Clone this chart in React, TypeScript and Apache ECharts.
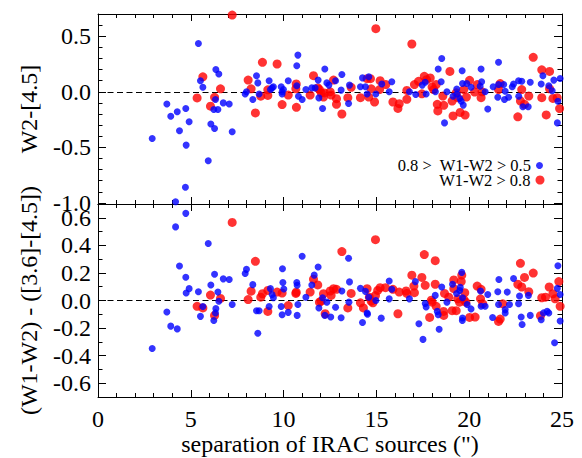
import React, { useEffect, useRef } from 'react';
import * as echarts from 'echarts';

const BLUE_NAME = '0.8 >  W1-W2 > 0.5';
const RED_NAME = 'W1-W2 > 0.8';
const X_TITLE = 'separation of IRAC sources (")';
const TOP_TITLE = 'W2-[4.5]';
const BOTTOM_TITLE = '(W1-W2) - ([3.6]-[4.5])';

// [separation, W2-[4.5]] — blue: 0.8 > W1-W2 > 0.5
const topBlue: [number, number][] = [
  [2.92, -0.42], [3.71, -0.11], [3.92, -0.22], [4.27, -0.18], [4.39, -0.35], [4.73, -0.15], [4.75, -0.48], [4.91, -0.27], [4.71, -0.86], [4.18, -0.99],
  [5.41, 0.435], [5.52, 0.1], [5.65, 0.04], [6.35, 0.2], [6.51, 0.16], [6.33, -0.07], [6.24, -0.16], [6.46, -0.16], [6.08, -0.29], [6.28, -0.33], [5.94, -0.62], [6.75, -0.1], [7.07, -0.11], [7.23, -0.36],
  [7.93, -0.02], [8.0, 0.0], [8.34, -0.07], [8.54, 0.145], [8.61, 0.08], [8.68, -0.02], [9.22, 0.1], [9.29, 0.02], [9.38, 0.035], [9.45, 0.045], [9.87, 0.045], [9.92, 0.0], [9.99, 0.02], [9.92, -0.02], [10.25, 0.1], [10.77, 0.33], [10.71, 0.235], [10.71, 0.055], [10.8, -0.04],
  [11.0, -0.07], [11.2, 0.02], [11.52, 0.035], [11.7, 0.035], [11.86, 0.105], [11.9, -0.055], [12.1, -0.15], [12.22, 0.205], [12.33, 0.08], [12.44, 0.06], [12.8, 0.1], [13.1, 0.015], [13.14, 0.155], [13.5, -0.105], [13.55, 0.06],
  [14.14, 0.045], [14.25, 0.125], [14.41, 0.045], [14.5, -0.02], [14.59, 0.135], [14.97, -0.02], [15.29, 0.07], [15.69, 0.0], [15.83, 0.09], [16.78, 0.0], [17.12, -0.025], [17.47, 0.06], [17.63, 0.085], [17.68, -0.02],
  [18.18, 0.0], [18.33, 0.205], [18.52, 0.3], [18.49, 0.09], [18.67, -0.28], [18.8, 0.0], [19.13, -0.04], [19.33, 0.025], [19.35, -0.02], [19.49, -0.06], [19.62, 0.19], [19.64, 0.075], [19.57, -0.085], [19.68, -0.12], [19.87, 0.075],
  [20.1, 0.04], [20.59, 0.05], [20.64, 0.205], [20.67, 0.09], [20.86, 0.0], [21.0, -0.155], [21.29, 0.045], [21.58, 0.265], [21.58, 0.065], [21.54, -0.05], [21.86, 0.065], [21.94, 0.005], [21.9, -0.07], [22.12, -0.05],
  [22.32, 0.045], [22.39, 0.07], [22.66, 0.1], [22.67, -0.04], [22.83, 0.095], [22.89, -0.135], [23.18, -0.135], [23.29, 0.085], [23.88, 0.07], [23.97, 0.145], [24.29, 0.055], [24.47, 0.01], [24.56, 0.105], [24.9, 0.12], [24.78, -0.085], [24.75, -0.28],
];

// [separation, W2-[4.5]] — red: W1-W2 > 0.8
const topRed: [number, number][] = [
  [5.34, -0.055], [5.65, 0.135], [6.28, -0.05], [6.06, -0.13], [6.6, 0.027], [7.23, 0.69], [8.09, 0.105], [8.25, 0.027], [8.48, -0.19], [8.77, -0.04], [8.86, 0.265], [9.15, 0.018], [9.15, -0.033], [9.65, 0.25], [9.92, -0.115], [10.25, -0.03], [10.66, 0.027], [10.68, 0.07], [10.69, -0.14],
  [11.43, -0.03], [11.61, 0.145], [11.85, 0.035], [11.93, 0.02], [12.03, -0.01], [12.15, -0.048], [12.2, -0.01], [12.51, 0.0], [12.56, -0.03], [12.69, 0.105], [12.85, -0.062], [12.85, -0.113], [13.14, -0.2], [13.64, 0.04], [13.46, -0.053],
  [14.14, -0.053], [14.5, 0.118], [14.68, 0.118], [14.72, 0.027], [14.59, -0.048], [14.9, -0.092], [14.97, 0.568], [15.2, 0.1], [15.17, 0.02], [15.51, 0.065], [15.89, -0.092], [16.16, -0.15], [16.23, -0.107], [16.64, -0.068], [16.64, 0.012], [16.91, 0.43],
  [17.05, 0.065], [17.27, 0.094], [17.45, -0.018], [17.58, 0.139], [17.7, 0.109], [17.9, 0.124], [18.0, 0.044], [18.08, 0.02], [18.22, 0.065], [18.28, -0.113], [18.31, -0.172], [18.58, -0.039], [18.63, -0.122], [18.96, 0.183],
  [19.08, -0.083], [19.13, -0.217], [19.3, -0.009], [19.38, -0.053], [19.51, -0.186], [19.78, -0.21], [19.71, 0.02], [19.85, -0.048], [20.02, 0.103], [20.29, -0.003], [20.43, 0.065], [20.64, -0.053], [20.69, 0.0], [21.58, 0.02], [21.67, 0.074],
  [22.62, -0.225], [22.83, 0.02], [22.76, -0.083], [22.98, -0.113], [23.21, -0.039], [23.45, 0.31], [23.91, 0.198], [23.91, -0.053], [24.15, -0.208], [24.33, 0.183], [24.33, 0.027], [24.51, -0.06], [24.74, -0.053], [24.87, -0.151],
];

// [separation, (W1-W2) - ([3.6]-[4.5])] — blue
const bottomBlue: [number, number][] = [
  [2.92, -0.348], [3.71, -0.083], [3.92, -0.186], [4.27, -0.206], [4.18, 0.534], [4.39, 0.25], [4.73, 0.632], [4.73, 0.169], [4.75, 0.054], [4.91, 0.086], [5.41, 0.064], [5.52, -0.115], [5.65, -0.044], [5.94, 0.414],
  [6.08, 0.113], [6.28, 0.191], [6.24, -0.145], [6.33, -0.09], [6.35, -0.059], [6.46, 0.061], [6.51, -0.005], [6.75, 0.157], [7.07, 0.152], [7.23, -0.029], [7.93, 0.196], [8.0, 0.226], [8.34, 0.115], [8.54, -0.074], [8.68, -0.074], [8.61, -0.238],
  [9.22, -0.044], [9.29, 0.086], [9.38, 0.044], [9.45, 0.02], [9.87, -0.044], [9.92, -0.103], [9.94, 0.23], [9.96, 0.13], [10.01, 0.083], [10.25, -0.086], [10.71, 0.13], [10.73, 0.11], [10.77, -0.029], [10.73, -0.108],
  [11.0, 0.321], [11.2, 0.024], [11.52, 0.113], [11.65, 0.184], [11.86, 0.243], [11.9, -0.054], [12.1, 0.02], [12.22, -0.108], [12.33, -0.012], [12.54, -0.12], [12.8, -0.049], [13.1, -0.125], [13.14, 0.069], [13.5, 0.307], [13.55, 0.135], [13.52, -0.012],
  [14.14, 0.088], [14.25, -0.159], [14.41, 0.066], [14.5, -0.091], [14.52, -0.1], [14.59, 0.024], [14.97, 0.0], [15.26, -0.128], [15.69, 0.142], [15.69, 0.012], [15.83, 0.081], [16.78, 0.012], [17.1, 0.137], [17.29, -0.169], [17.51, -0.282], [17.63, -0.022], [17.68, -0.047],
  [18.17, 0.037], [18.28, -0.079], [18.33, -0.103], [18.38, -0.208], [18.52, 0.098], [18.8, -0.012], [19.1, 0.118], [19.32, 0.051], [19.49, 0.073], [19.52, 0.095], [19.6, 0.204], [19.64, 0.02], [19.64, -0.127], [19.63, -0.145], [19.89, -0.029],
  [20.1, -0.061], [20.61, 0.069], [20.64, -0.042], [20.86, -0.042], [21.0, 0.044], [21.26, -0.123], [21.54, 0.064], [21.6, 0.152], [21.58, -0.029], [21.94, -0.066], [21.94, -0.09], [22.05, 0.061], [22.17, -0.029], [22.39, 0.16],
  [22.66, -0.024], [22.71, 0.032], [22.8, -0.12], [22.85, -0.174], [23.19, 0.037], [23.29, -0.108], [23.88, -0.14], [24.0, -0.09], [24.2, -0.079], [24.29, -0.09], [24.6, -0.306], [24.75, 0.088], [24.78, 0.252], [24.9, 0.044], [24.9, -0.149],
];

// [separation, (W1-W2) - ([3.6]-[4.5])] — red
const bottomRed: [number, number][] = [
  [5.34, -0.042], [5.65, -0.054], [6.06, 0.039], [6.28, -0.108], [6.6, 0.015], [7.23, 0.566], [8.09, 0.007], [8.25, 0.068], [8.48, 0.284], [8.77, 0.024], [8.86, 0.049], [9.15, -0.079], [9.15, 0.073], [9.65, 0.061], [9.92, 0.054], [10.25, -0.037], [10.66, 0.051], [10.68, 0.06],
  [11.43, 0.061], [11.61, 0.154], [11.84, 0.113], [11.93, -0.012], [12.02, -0.005], [12.15, 0.049], [12.24, -0.096], [12.51, 0.069], [12.56, 0.037], [12.69, 0.086], [12.85, 0.081], [13.14, 0.355], [13.46, -0.054], [13.64, 0.051],
  [14.14, -0.017], [14.3, -0.054], [14.5, 0.086], [14.62, 0.024], [14.72, -0.005], [14.81, -0.017], [14.95, 0.441], [14.95, 0.037], [15.07, 0.073], [15.2, 0.093], [15.49, 0.093], [15.89, 0.081], [16.16, -0.096], [16.23, 0.061], [16.6, 0.069], [16.64, 0.051],
  [16.91, 0.184], [17.02, 0.105], [17.05, 0.057], [17.45, 0.167], [17.58, 0.333], [17.63, 0.11], [17.87, -0.123], [17.96, 0.002], [18.0, -0.012], [18.17, 0.289], [18.17, 0.118], [18.22, -0.042], [18.62, -0.079], [18.63, -0.108], [18.67, 0.051], [18.9, 0.024],
  [19.08, -0.074], [19.17, 0.149], [19.17, 0.086], [19.3, -0.074], [19.38, 0.012], [19.48, -0.012], [19.6, 0.184], [19.57, 0.137], [19.76, 0.057], [19.71, 0.007], [19.82, -0.012], [20.02, -0.123], [20.32, -0.12], [20.43, 0.105], [20.64, 0.081], [20.61, 0.012], [20.73, -0.024],
  [21.58, -0.152], [21.67, -0.135], [21.81, -0.024], [22.62, 0.118], [22.76, 0.27], [22.83, 0.098], [22.98, 0.167], [23.21, 0.064], [23.45, 0.199], [23.84, -0.11], [23.91, 0.02], [24.11, 0.024], [24.31, 0.098], [24.51, 0.049], [24.63, 0.012], [24.83, 0.137], [24.9, -0.042],
];

const X_RANGE = [0, 25];
const TOP_RANGE = [-1.01, 0.7];
const BOTTOM_RANGE = [-0.7, 0.7];

const FONT = 'Liberation Serif';
const BLACK = '#000000';

function xAxisDef(gridIndex: number, position: string, showLabels: boolean, withName: boolean) {
  return {
    type: 'value',
    gridIndex,
    position,
    min: X_RANGE[0],
    max: X_RANGE[1],
    interval: 5,
    axisLine: { show: true, onZero: false, lineStyle: { color: BLACK, width: 1 } },
    axisTick: { show: true, inside: true, length: 7, lineStyle: { color: BLACK, width: 1 } },
    minorTick: { show: true, splitNumber: 5, length: 4, lineStyle: { color: BLACK, width: 1 } },
    splitLine: { show: false },
    minorSplitLine: { show: false },
    axisLabel: { show: showLabels, margin: 10, fontFamily: FONT, fontSize: 24, color: BLACK },
    name: withName ? X_TITLE : '',
    nameLocation: 'middle',
    nameGap: 31,
    nameTextStyle: { fontFamily: FONT, fontSize: 24, color: BLACK },
  };
}

function yMajorDef(gridIndex: number, position: string, range: number[], splitNumber: number, showLabels: boolean, formatter: (v: number) => string, name: string) {
  return {
    type: 'value',
    gridIndex,
    position,
    min: range[0],
    max: range[1],
    splitNumber,
    axisLine: { show: true, onZero: false, lineStyle: { color: BLACK, width: 1 } },
    axisTick: { show: true, inside: true, length: 8, lineStyle: { color: BLACK, width: 1 } },
    splitLine: { show: false },
    axisLabel: { show: showLabels, margin: 7, fontFamily: FONT, fontSize: 24, lineHeight: 18, color: BLACK, formatter },
    name,
    nameLocation: 'middle',
    nameRotate: 90,
    nameGap: 57,
    nameTextStyle: { fontFamily: FONT, fontSize: 24, color: BLACK },
  };
}

function yMinorDef(gridIndex: number, position: string, range: number[], splitNumber: number) {
  return {
    type: 'value',
    gridIndex,
    position,
    min: range[0],
    max: range[1],
    splitNumber,
    axisLine: { show: false, onZero: false },
    axisTick: { show: true, inside: true, length: 4.5, lineStyle: { color: BLACK, width: 1 } },
    splitLine: { show: false },
    axisLabel: { show: false },
  };
}

const topFormatter = (v: number) => (Math.abs(v * 2 - Math.round(v * 2)) < 1e-6 ? (Math.abs(v) < 1e-9 ? '0.0' : v.toFixed(1)) : '');
const bottomFormatter = (v: number) => (Math.abs(v) <= 0.61 ? (Math.abs(v) < 1e-9 ? '0.0' : v.toFixed(1)) : '');

const zeroLine = {
  silent: true,
  symbol: ['none', 'none'],
  z: 1,
  label: { show: false },
  lineStyle: { color: BLACK, width: 1, type: [6, 3.5] },
  data: [{ yAxis: 0 }],
};

export default function App() {
  const ref = useRef<HTMLDivElement>(null);
  useEffect(() => {
    if (!ref.current) return;
    const chart = echarts.init(ref.current, undefined, { renderer: 'svg' });
    const legendText = { fontFamily: FONT, fontSize: 16.5, color: BLACK, lineHeight: 14 };
    chart.setOption({
      animation: false,
      backgroundColor: '#ffffff',
      grid: [
        { left: 98, top: 14, width: 464, height: 190 },
        { left: 98, top: 204, width: 464, height: 193 },
      ],
      legend: [
        {
          data: [{ name: BLUE_NAME, icon: 'circle' }],
          orient: 'vertical', align: 'right', right: 39, top: 157, padding: 0,
          itemWidth: 7, itemHeight: 7, selectedMode: false, textStyle: legendText,
        },
        {
          data: [{ name: RED_NAME, icon: 'circle' }],
          orient: 'vertical', align: 'right', right: 37.5, top: 171.5, padding: 0,
          itemWidth: 9, itemHeight: 9, selectedMode: false, textStyle: legendText,
        },
      ],
      xAxis: [
        xAxisDef(0, 'bottom', false, false),
        xAxisDef(0, 'top', false, false),
        xAxisDef(1, 'bottom', true, true),
        xAxisDef(1, 'top', false, false),
      ],
      yAxis: [
        yMajorDef(0, 'left', TOP_RANGE, 3, true, topFormatter, TOP_TITLE),
        yMajorDef(0, 'right', TOP_RANGE, 3, false, topFormatter, ''),
        yMinorDef(0, 'left', TOP_RANGE, 17),
        yMinorDef(0, 'right', TOP_RANGE, 17),
        yMajorDef(1, 'left', BOTTOM_RANGE, 7, true, bottomFormatter, BOTTOM_TITLE),
        yMajorDef(1, 'right', BOTTOM_RANGE, 7, false, bottomFormatter, ''),
        yMinorDef(1, 'left', BOTTOM_RANGE, 14),
        yMinorDef(1, 'right', BOTTOM_RANGE, 14),
      ],
      series: [
        { type: 'scatter', name: RED_NAME, xAxisIndex: 0, yAxisIndex: 0, data: topRed, symbol: 'circle', symbolSize: 9, itemStyle: { color: '#ff0000' }, markLine: zeroLine },
        { type: 'scatter', name: BLUE_NAME, xAxisIndex: 0, yAxisIndex: 0, data: topBlue, symbol: 'circle', symbolSize: 7, itemStyle: { color: '#0000ff' } },
        { type: 'scatter', name: RED_NAME, xAxisIndex: 2, yAxisIndex: 4, data: bottomRed, symbol: 'circle', symbolSize: 9, itemStyle: { color: '#ff0000' }, markLine: zeroLine },
        { type: 'scatter', name: BLUE_NAME, xAxisIndex: 2, yAxisIndex: 4, data: bottomBlue, symbol: 'circle', symbolSize: 7, itemStyle: { color: '#0000ff' } },
      ],
    });
    return () => chart.dispose();
  }, []);
  return <div ref={ref} style={{ position: 'absolute', left: 0, top: 0, width: 582, height: 458, background: '#fff' }} />;
}
